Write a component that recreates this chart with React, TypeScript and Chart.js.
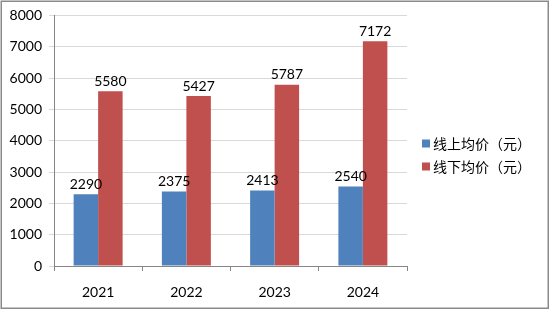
import React, { useEffect, useRef } from "react";
import { Chart, registerables } from "chart.js";

Chart.register(...registerables);

const categories = ["2021", "2022", "2023", "2024"];
const onlineValues = [2290, 2375, 2413, 2540];
const offlineValues = [5580, 5427, 5787, 7172];
const seriesNames = ["线上均价（元）", "线下均价（元）"];
const seriesColors = ["#4F81BD", "#C0504D"];
const yMin = 0;
const yMax = 8000;
const yStep = 1000;

const NUM_FONT = "Lato, 'Liberation Sans', sans-serif";
const CJK_FONT = "'Noto Sans CJK SC', sans-serif";

const valueLabels = {
  id: "valueLabels",
  afterDatasetsDraw(chart: any) {
    const ctx = chart.ctx;
    ctx.save();
    ctx.font = `14px ${NUM_FONT}`;
    ctx.fillStyle = "#000";
    ctx.textAlign = "center";
    ctx.textBaseline = "bottom";
    chart.data.datasets.forEach((ds: any, i: number) => {
      const meta = chart.getDatasetMeta(i);
      meta.data.forEach((bar: any, j: number) => {
        ctx.fillText(String(ds.data[j]), bar.x, bar.y - 3);
      });
    });
    ctx.restore();
  },
};

const sideLegend = {
  id: "sideLegend",
  afterDraw(chart: any) {
    const ctx = chart.ctx;
    const area = chart.chartArea;
    const x = area.right + 15;
    const step = 23;
    const n = chart.data.datasets.length;
    const cy = chart.height / 2;
    ctx.save();
    ctx.font = `14px ${CJK_FONT}`;
    ctx.textAlign = "left";
    ctx.textBaseline = "middle";
    chart.data.datasets.forEach((ds: any, i: number) => {
      const y = cy + (i - (n - 1) / 2) * step;
      ctx.fillStyle = ds.backgroundColor;
      ctx.fillRect(x, y - 4, 8, 8);
      ctx.fillStyle = "#000";
      ctx.fillText(ds.label, x + 11, y);
    });
    ctx.restore();
  },
};

const frame = {
  id: "frame",
  beforeDraw(chart: any) {
    const ctx = chart.ctx;
    ctx.save();
    ctx.fillStyle = "#fff";
    ctx.fillRect(0, 0, chart.width, chart.height);
    ctx.strokeStyle = "#8a8a8a";
    ctx.lineWidth = 1.5;
    ctx.strokeRect(1.25, 1.25, chart.width - 3, chart.height - 3);
    ctx.restore();
  },
};

export default function App() {
  const ref = useRef<HTMLCanvasElement>(null);
  useEffect(() => {
    if (!ref.current) return;
    const chart = new Chart(ref.current, {
      type: "bar",
      data: {
        labels: categories,
        datasets: [
          {
            label: seriesNames[0],
            data: onlineValues,
            backgroundColor: seriesColors[0],
            barPercentage: 1,
            categoryPercentage: 0.555,
          },
          {
            label: seriesNames[1],
            data: offlineValues,
            backgroundColor: seriesColors[1],
            barPercentage: 1,
            categoryPercentage: 0.555,
          },
        ],
      },
      options: {
        responsive: false,
        animation: false,
        layout: { padding: { top: 15, left: 0, right: 143, bottom: 0 } },
        plugins: {
          legend: { display: false },
          tooltip: { enabled: false },
        },
        scales: {
          x: {
            grid: {
              offset: true,
              drawOnChartArea: false,
              tickLength: 5,
              color: "#868686",
            },
            border: { color: "#868686" },
            ticks: {
              color: "#000",
              padding: 13,
              font: { size: 14, family: NUM_FONT },
            },
            afterFit(scale: any) {
              scale.height = 44;
            },
          },
          y: {
            min: yMin,
            max: yMax,
            ticks: {
              stepSize: yStep,
              color: "#000",
              padding: 7,
              font: { size: 14, family: NUM_FONT },
              callback: (v: any) => String(v),
            },
            grid: { color: "#D9D9D9", tickLength: 5 },
            border: { color: "#868686" },
            afterFit(scale: any) {
              scale.width = 54;
            },
          },
        },
      },
      plugins: [frame, valueLabels, sideLegend],
    });
    return () => chart.destroy();
  }, []);
  return (
    <div style={{ position: "absolute", left: 0, top: 0, width: 550, height: 310 }}>
      <canvas ref={ref} width={550} height={310} />
    </div>
  );
}
